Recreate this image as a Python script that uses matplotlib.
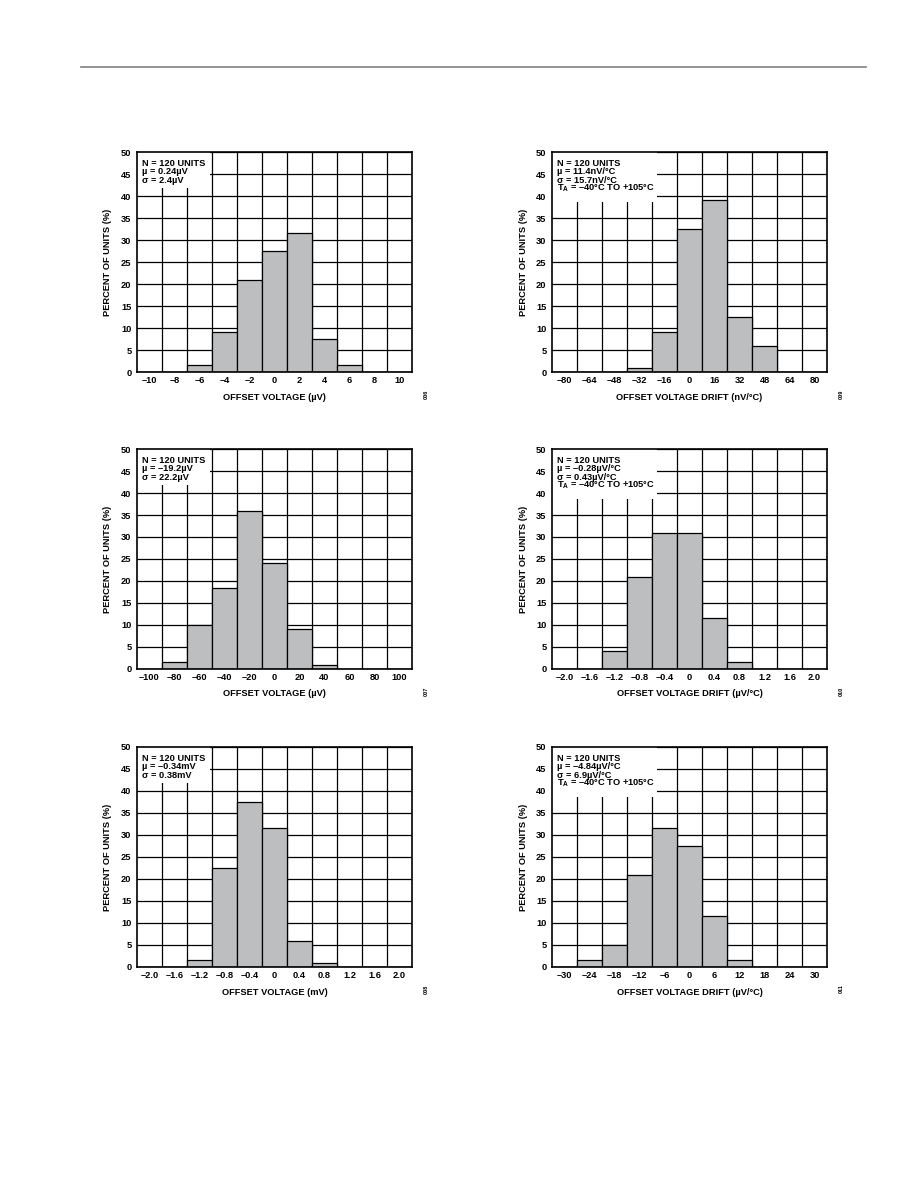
import matplotlib
matplotlib.use("Agg")
import matplotlib.pyplot as plt
from matplotlib.patches import Rectangle
from matplotlib.lines import Line2D

plt.rcParams['font.family'] = ['Liberation Sans', 'DejaVu Sans']
plt.rcParams['font.weight'] = 'bold'
plt.rcParams['mathtext.fontset'] = 'custom'
plt.rcParams['mathtext.rm'] = 'Liberation Sans:bold'
plt.rcParams['mathtext.default'] = 'rm'

# ---------------- data ----------------
ticks1 = ['–10', '–8', '–6', '–4', '–2', '0', '2', '4', '6', '8', '10']
pct1 = [0, 0, 1.67, 9.17, 20.83, 27.5, 31.67, 7.5, 1.67, 0, 0]

ticks2 = ['–80', '–64', '–48', '–32', '–16', '0', '16', '32', '48', '64', '80']
pct2 = [0, 0, 0, 0.83, 9.17, 32.5, 39.17, 12.5, 5.83, 0, 0]

ticks3 = ['–100', '–80', '–60', '–40', '–20', '0', '20', '40', '60', '80', '100']
pct3 = [0, 1.67, 10.0, 18.33, 35.83, 24.17, 9.17, 0.83, 0, 0, 0]

ticks4 = ['–2.0', '–1.6', '–1.2', '–0.8', '–0.4', '0', '0.4', '0.8', '1.2', '1.6', '2.0']
pct4 = [0, 0, 4.17, 20.83, 30.83, 30.83, 11.67, 1.67, 0, 0, 0]

ticks5 = ['–2.0', '–1.6', '–1.2', '–0.8', '–0.4', '0', '0.4', '0.8', '1.2', '1.6', '2.0']
pct5 = [0, 0, 1.67, 22.5, 37.5, 31.67, 5.83, 0.83, 0, 0, 0]

ticks6 = ['–30', '–24', '–18', '–12', '–6', '0', '6', '12', '18', '24', '30']
pct6 = [0, 1.67, 5.0, 20.83, 31.67, 27.5, 11.67, 1.67, 0, 0, 0]

xlabels = ['OFFSET VOLTAGE (µV)', 'OFFSET VOLTAGE DRIFT (nV/°C)',
           'OFFSET VOLTAGE (µV)', 'OFFSET VOLTAGE DRIFT (µV/°C)',
           'OFFSET VOLTAGE (mV)', 'OFFSET VOLTAGE DRIFT (µV/°C)']

notes = [
    ['N = 120 UNITS', 'µ = 0.24µV', 'σ = 2.4µV'],
    ['N = 120 UNITS', 'µ = 11.4nV/°C', 'σ = 15.7nV/°C', 'T$_{A}$ = –40°C TO +105°C'],
    ['N = 120 UNITS', 'µ = –19.2µV', 'σ = 22.2µV'],
    ['N = 120 UNITS', 'µ = –0.28µV/°C', 'σ = 0.43µV/°C', 'T$_{A}$ = –40°C TO +105°C'],
    ['N = 120 UNITS', 'µ = –0.34mV', 'σ = 0.38mV'],
    ['N = 120 UNITS', 'µ = –4.84µV/°C', 'σ = 6.9µV/°C', 'T$_{A}$ = –40°C TO +105°C'],
]
ids = ['006', '009', '007', '010', '008', '011']

all_ticks = [ticks1, ticks2, ticks3, ticks4, ticks5, ticks6]
all_pct = [pct1, pct2, pct3, pct4, pct5, pct6]

# ---------------- layout ----------------
W, H = 918, 1188
fig = plt.figure(figsize=(W / 100, H / 100), dpi=100)

lefts = [137, 552]
rows = [(152, 372), (449, 669), (747, 967)]
ax_w = 275

fig.add_artist(Line2D([81 / W, 866 / W], [1 - 67 / H, 1 - 67 / H],
                      color='#808080', lw=1.2))

FS = 6.7
for i in range(6):
    r, c = divmod(i, 2)
    top, bot = rows[r]
    left = lefts[c]
    ax = fig.add_axes([left / W, 1 - bot / H, ax_w / W, (bot - top) / H])
    n = len(all_ticks[i])
    xs = list(range(n))
    ax.bar(xs, all_pct[i], width=1.0, color='#bcbec0', edgecolor='black',
           linewidth=0.9, zorder=3)
    ax.set_xlim(-0.5, n - 0.5)
    ax.set_ylim(0, 50)
    ax.set_xticks(xs)
    ax.set_xticklabels(all_ticks[i], fontsize=FS, fontweight='bold')
    ax.set_yticks(range(0, 51, 5))
    ax.set_yticklabels([str(v) for v in range(0, 51, 5)], fontsize=FS,
                       fontweight='bold')
    ax.set_xticks([k + 0.5 for k in range(n - 1)], minor=True)
    ax.tick_params(axis='both', which='both', length=0)
    ax.tick_params(axis='x', pad=3)
    ax.tick_params(axis='y', pad=4)
    ax.grid(True, which='minor', axis='x', color='black', lw=0.9, zorder=1)
    ax.grid(True, which='major', axis='y', color='black', lw=0.9, zorder=1)
    ax.set_axisbelow(True)
    for s in ax.spines.values():
        s.set_linewidth(1.2)
        s.set_zorder(6)

    # axis titles
    fig.text((left + ax_w / 2) / W, 1 - 25 / H - bot / H, xlabels[i],
             fontsize=FS, fontweight='bold', ha='center', va='center')
    fig.text((left - 29) / W, 1 - (top + bot) / 2 / H, 'PERCENT OF UNITS (%)',
             fontsize=FS, fontweight='bold', ha='center', va='center',
             rotation=90)

    # annotation box
    lines = notes[i]
    if len(lines) == 3:
        bw, bh = 73, 36
    else:
        bw, bh = 105, 50
    ax.add_patch(Rectangle((0, 1 - bh / (bot - top)), bw / ax_w, bh / (bot - top),
                           transform=ax.transAxes, facecolor='white',
                           edgecolor='none', zorder=4))
    for j, t in enumerate(lines):
        ax.text(5 / ax_w, 1 - (11.5 + 8.4 * j) / (bot - top), t,
                transform=ax.transAxes, fontsize=FS, fontweight='bold',
                ha='left', va='center', zorder=5)

    # figure id
    fig.text((left + ax_w + 14) / W, 1 - (bot + 22) / H, ids[i], rotation=90,
             fontsize=4, fontweight='bold', ha='center', va='center')

fig.savefig('out.png', dpi=100)
